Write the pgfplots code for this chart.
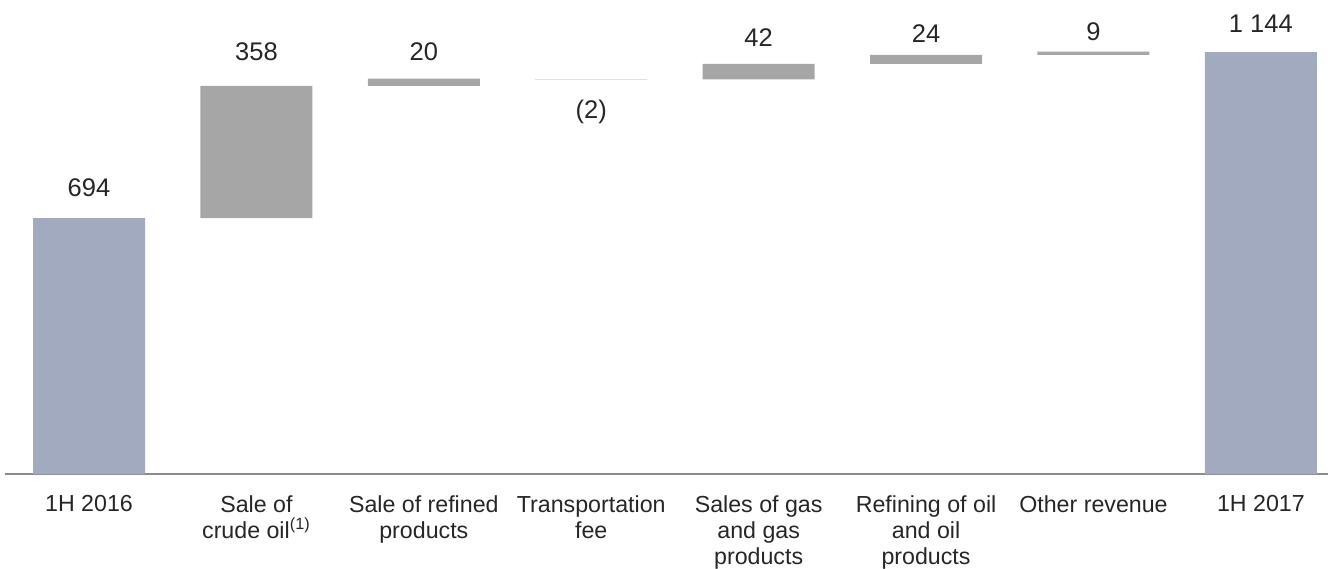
\documentclass[border=0pt]{standalone}
\usepackage{fontspec}
\setmainfont{Liberation Sans}
\usepackage{pgfplots}
\pgfplotsset{compat=1.18}

\definecolor{endbar}{HTML}{A2AABF}
\definecolor{stepbar}{HTML}{A6A6A6}
\definecolor{dropbar}{HTML}{C5E9F9}
\definecolor{axisline}{HTML}{8C8C8C}
\definecolor{txt}{HTML}{262626}

% 1px of the reference = 0.5pt
\pgfplotsset{
  wf/.style={
    at={(2.5pt,47pt)}, anchor=south west,
    scale only axis, width=661.5pt, height=237pt,
    xmin=-0.5018, xmax=7.401, ymin=0, ymax=1285,
    clip=false,
  }
}

\begin{document}
\begin{tikzpicture}
\useasboundingbox (0,0) rectangle (664pt,284pt);
\begin{axis}[wf,
    ybar stacked, bar width=56pt,
    axis x line*=bottom, axis y line=none,
    x axis line style={axisline, line width=1pt},
    xtick={0,...,7}, ytick=\empty, major tick length=0pt,
    xticklabels={1H 2016, {Sale of\\crude oil\textsuperscript{(1)}}, {Sale of refined\\products},
      {Transportation\\fee}, {Sales of gas\\and gas\\products}, {Refining of oil\\and oil\\products},
      Other revenue, 1H 2017},
    xticklabel style={anchor=north, align=center, inner sep=0pt, yshift=-10.5pt, text=txt,
      font=\fontsize{11.6}{13}\selectfont},
  ]
  % invisible base
  \addplot[fill=none, draw=none] coordinates {(0,0) (1,694) (2,1052) (3,1070) (4,1070) (5,1112) (6,1136) (7,0)};
  % totals
  \addplot[fill=endbar, draw=none] coordinates {(0,694) (1,0) (2,0) (3,0) (4,0) (5,0) (6,0) (7,1144)};
  % increases
  \addplot[fill=stepbar, draw=none] coordinates {(0,0) (1,358) (2,20) (3,0) (4,42) (5,24) (6,9) (7,0)};
  % decrease
  \addplot[fill=dropbar, draw=none] coordinates {(0,0) (1,0) (2,0) (3,2) (4,0) (5,0) (6,0) (7,0)};
\end{axis}
\begin{axis}[wf, hide axis]
  \addplot[only marks, mark=none, nodes near coords, point meta=explicit symbolic,
    every node near coord/.append style={anchor=base, inner sep=0pt, text=txt,
      font=\fontsize{12.75}{14}\selectfont}]
    table[col sep=comma, meta=label] {
x,y,label
0,751,694
1,1120,358
2,1120,20
3,965,(2)
4,1160,42
5,1171,24
6,1176,9
7,1198,1 144
};
\end{axis}
\end{tikzpicture}
\end{document}
